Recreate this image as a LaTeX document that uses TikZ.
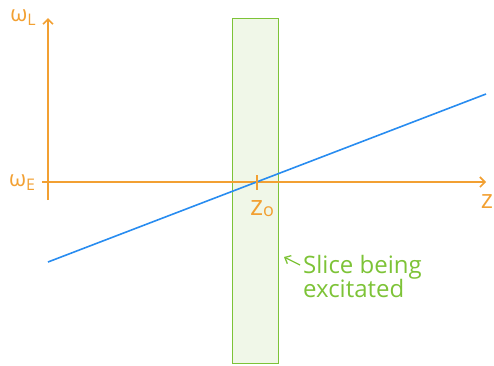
\documentclass[tikz,border=0pt]{standalone}
\usepackage{fontspec}
\setmainfont{Open Sans}
\usetikzlibrary{arrows.meta}
\definecolor{axisor}{RGB}{242,160,50}
\definecolor{slicegr}{RGB}{125,195,55}
\definecolor{slicefill}{RGB}{240,247,232}
\definecolor{lineblue}{RGB}{40,140,240}
\tikzset{
  axis/.style={draw=axisor, line width=1.6pt, -{Straight Barb[length=5pt,width=10pt]}},
  lbl/.style={text=axisor, inner sep=0pt},
  note/.style={text=slicegr, font=\fontsize{24}{24}\selectfont, inner sep=0pt, align=left}
}
\newcommand{\bigsym}[1]{{\fontsize{22}{22}\selectfont #1}}
\newcommand{\subsym}[1]{\raisebox{-4pt}{\fontsize{16}{16}\selectfont #1}}
\begin{document}
\begin{tikzpicture}[x=1pt,y=-1pt]
\useasboundingbox (0,0) rectangle (494,365);
\node[draw=slicegr, fill=slicefill, line width=1.3pt, minimum width=46pt, minimum height=345pt, inner sep=0pt, anchor=north west] (slice) at (232,18) {};
\coordinate (yb) at (48,200);
\coordinate (yt) at (48,18);
\coordinate (xl) at (42,182);
\coordinate (xr) at (486,182);
\draw[axis] (yb) -- (yt);
\draw[axis] (xl) -- (xr);
\coordinate (la) at (48,262);
\coordinate (lb) at (486,94);
\draw[lineblue, line width=1.6pt] (la) -- (lb);
\coordinate (ta) at (257,175);
\coordinate (tb) at (257,190);
\draw[axisor, line width=1.6pt] (ta) -- (tb);
\node[lbl] (wl) at (23,18) {\bigsym{ω}\subsym{L}};
\node[lbl] (we) at (22,183) {\bigsym{ω}\subsym{E}};
\node[lbl] (z0) at (262,209) {{\fontsize{28}{28}\selectfont z}\raisebox{-1pt}{\fontsize{18}{18}\selectfont o}};
\node[lbl] (z) at (487,202) {\fontsize{26}{26}\selectfont z};
\node[note, anchor=north west] (txt) at (303,255) {Slice being\\excitated};
\coordinate (at) at (300,265);
\coordinate (ah) at (284,257);
\draw[slicegr, line width=1.3pt, -{Straight Barb[length=5pt,width=9pt]}] (at) -- (ah);
\end{tikzpicture}
\end{document}
